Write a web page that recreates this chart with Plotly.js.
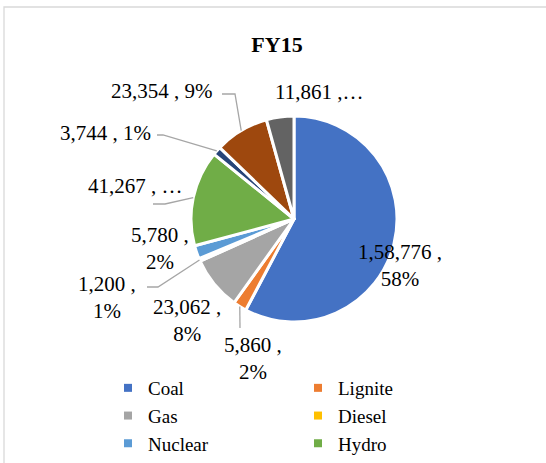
<!DOCTYPE html>
<html>
<head>
<meta charset="utf-8">
<script src="https://cdn.plot.ly/plotly-3.0.1.min.js"></script>
<style>html,body{margin:0;padding:0;background:#fff;}#chart{width:546px;height:463px;}</style>
</head>
<body>
<div id="chart"></div>
<script>
// ---- data ----
var categories = ["Coal", "Lignite", "Gas", "Diesel", "Nuclear", "Hydro", "Solar", "Wind", "Other RES"];
var capacity = [158776, 5860, 23062, 1200, 5780, 41267, 3744, 23354, 11861];
var pctLabels = ["58%", "2%", "8%", "1%", "2%", "…", "1%", "9%", "…"];
var legendCategories = ["Coal", "Lignite", "Gas", "Diesel", "Nuclear", "Hydro"];
var colors = ["#4472C4", "#ED7D31", "#A5A5A5", "#FFC000", "#5B9BD5", "#70AD47", "#264478", "#9E480E", "#636363"];

// ---- layout config (pixels) ----
var W = 546, H = 463;
var CX = 294, CY = 219, R = 103;
var SERIF = "Liberation Serif";
// label text centre, separator between value and percent, leader elbow points (label side)
var labelCfg = [
  {x: 400, y: 265, sep: " ,<br>", leader: null},
  {x: 253, y: 358, sep: " ,<br>", leader: [[240, 328]]},
  {x: 187, y: 320, sep: " ,<br>", leader: null},
  {x: 107, y: 297, sep: " ,<br>", leader: [[147, 287], [158, 287]]},
  {x: 160, y: 249, sep: " ,<br>", leader: null},
  {x: 135, y: 186, sep: " , ", leader: [[153, 204], [165, 204]]},
  {x: 105, y: 133, sep: " , ", leader: [[157, 135], [163, 135]]},
  {x: 162, y: 91, sep: " , ", leader: [[222, 94], [235, 94]]},
  {x: 319, y: 92, sep: " ,", leader: null}
];

function px(x) { return x / W; }
function py(y) { return 1 - y / H; }
function indian(n) {
  var s = String(n);
  if (s.length <= 3) return s;
  var last3 = s.slice(-3), rest = s.slice(0, -3);
  rest = rest.replace(/\B(?=(\d{2})+(?!\d))/g, ",");
  return rest + "," + last3;
}

var total = capacity.reduce(function (a, b) { return a + b; }, 0);
var annotations = [], shapes = [];
var cum = 0;
for (var i = 0; i < capacity.length; i++) {
  var mid = (cum + capacity[i] / 2) / total * 2 * Math.PI; // clockwise from 12 o'clock
  cum += capacity[i];
  var c = labelCfg[i];
  annotations.push({
    xref: "paper", yref: "paper", x: px(c.x), y: py(c.y),
    xanchor: "center", yanchor: "middle", align: "center", showarrow: false,
    text: indian(capacity[i]) + c.sep + pctLabels[i],
    font: {family: SERIF, size: 21, color: "#000"}
  });
  if (c.leader) {
    var ax = CX + R * Math.sin(mid), ay = CY - R * Math.cos(mid);
    var pts = c.leader.concat([[ax, ay]]);
    var path = pts.map(function (p, k) { return (k ? "L" : "M") + px(p[0]) + "," + py(p[1]); }).join(" ");
    shapes.push({type: "path", xref: "paper", yref: "paper", path: path, line: {color: "#A6A6A6", width: 1.3}});
  }
}
// chart frame (left and top edges)
shapes.push({type: "path", xref: "paper", yref: "paper", path: "M" + px(4) + "," + py(463) + " L" + px(4) + "," + py(7) + " L" + px(546) + "," + py(7), line: {color: "#D9D9D9", width: 1.3}});

var pieTrace = {
  type: "pie",
  labels: categories,
  values: capacity,
  sort: false,
  direction: "clockwise",
  rotation: 0,
  textinfo: "none",
  hoverinfo: "label+value+percent",
  showlegend: false,
  marker: {colors: colors, line: {color: "#ffffff", width: 3}},
  domain: {x: [px(CX - R), px(CX + R)], y: [py(CY + R), py(CY - R)]}
};

var legendTraces = legendCategories.map(function (name) {
  var idx = categories.indexOf(name);
  return {
    type: "scatter", mode: "markers", x: [null], y: [null], name: name,
    marker: {symbol: "square", size: 8, color: colors[idx]},
    hoverinfo: "skip", showlegend: true
  };
});

var layout = {
  width: W, height: H,
  margin: {l: 0, r: 0, t: 0, b: 0},
  paper_bgcolor: "#ffffff", plot_bgcolor: "#ffffff",
  title: {
    text: "<b>FY15</b>", x: px(277), xanchor: "center", y: py(44), yanchor: "middle",
    font: {family: SERIF, size: 22, color: "#000"}
  },
  xaxis: {visible: false}, yaxis: {visible: false},
  showlegend: true,
  legend: {
    orientation: "h",
    x: px(108), xanchor: "left", y: 0, yanchor: "bottom",
    entrywidth: 145, entrywidthmode: "pixels", itemwidth: 30,
    font: {family: SERIF, size: 19, color: "#000"},
    bgcolor: "rgba(0,0,0,0)"
  },
  annotations: annotations,
  shapes: shapes
};

Plotly.newPlot("chart", [pieTrace].concat(legendTraces), layout, {displayModeBar: false, staticPlot: true});
</script>
</body>
</html>
